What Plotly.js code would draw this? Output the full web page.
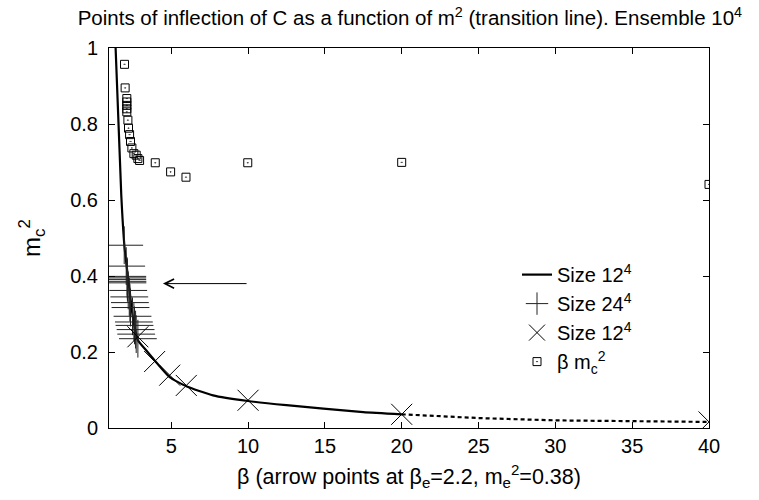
<!DOCTYPE html>
<html>
<head>
<meta charset="utf-8">
<script src="https://cdn.plot.ly/plotly-3.0.1.min.js"></script>
<style>html,body{margin:0;padding:0;background:#fff;}#chart{width:759px;height:500px;}</style>
</head>
<body>
<div id="chart"></div>
<script>
// Size 12^4 fitted transition line (solid part)
var lineBeta = [1.38, 1.75, 1.96, 2.29, 2.5, 2.83, 3.38, 3.92, 4.9, 5.98, 7.72, 10.0, 12.5, 14.9, 17.5, 20];
var lineM    = [1.0, 0.612, 0.476, 0.362, 0.292, 0.231, 0.204, 0.178, 0.134, 0.11, 0.086, 0.071, 0.06, 0.051, 0.042, 0.036];
// dashed continuation
var dashBeta = [20, 25.1, 30.1, 35.1, 39.9];
var dashM    = [0.036, 0.026, 0.020, 0.0176, 0.016];
// Size 24^4 points (plus)
var plusBeta = [1.94, 2.07, 2.14, 2.14, 2.14, 2.15, 2.15, 2.2, 2.27, 2.31, 2.35, 2.48, 2.57, 2.61, 2.68, 2.72, 2.83];
var plusM    = [0.481, 0.426, 0.399, 0.395, 0.391, 0.386, 0.382, 0.362, 0.345, 0.33, 0.317, 0.294, 0.279, 0.27, 0.259, 0.247, 0.235];
// Size 12^4 points (cross)
var crossBeta = [2.83, 3.92, 4.9, 5.98, 10.0, 20, 40];
var crossM    = [0.24, 0.175, 0.139, 0.112, 0.073, 0.036, 0.016];
// beta m_c^2 (squares)
var sqBeta = [1.96, 2.0, 2.11, 2.11, 2.11, 2.11, 2.11, 2.18, 2.22, 2.29, 2.35, 2.44, 2.57, 2.72, 2.83, 2.94, 3.96, 4.96, 5.96, 9.98, 20, 40];
var sqM    = [0.957, 0.895, 0.867, 0.858, 0.849, 0.84, 0.832, 0.81, 0.789, 0.772, 0.754, 0.737, 0.722, 0.718, 0.709, 0.704, 0.698, 0.674, 0.66, 0.698, 0.699, 0.641];
// arrow (head, tail) at m^2 level
var arrowBeta = [4.46, 10.0];
var arrowM = 0.38;

var traces = [
  {x: lineBeta, y: lineM, mode: 'lines', name: 'Size 12<sup>4</sup>',
   line: {color: '#000', width: 2.2, shape: 'spline', smoothing: 0.5}},
  {x: dashBeta, y: dashM, mode: 'lines', showlegend: false,
   line: {color: '#000', width: 2.2, dash: '4px,3px'}},
  {x: plusBeta, y: plusM, mode: 'markers', name: 'Size 24<sup>4</sup>',
   marker: {symbol: 'cross-thin-open', size: 27, color: '#222', line: {color: '#222', width: 1}}},
  {x: crossBeta, y: crossM, mode: 'markers', name: 'Size 12<sup>4</sup>',
   marker: {symbol: 'x-thin-open', size: 21, color: '#000', line: {color: '#000', width: 1}}},
  {x: sqBeta, y: sqM, mode: 'markers', name: '\u03b2 m<sub>c</sub><sup>2</sup>',
   marker: {symbol: 'square-open-dot', size: 8, color: '#000', line: {color: '#000', width: 1}}}
];

var layout = {
  width: 759, height: 500,
  margin: {l: 109, r: 50, t: 48, b: 72},
  paper_bgcolor: '#fff', plot_bgcolor: '#fff',
  font: {family: 'Liberation Sans, Arial, sans-serif', size: 20, color: '#000'},
  title: {text: 'Points of inflection of C as a function of m<sup>2</sup> (transition line). Ensemble 10<sup>4</sup>',
          font: {size: 20.5}, x: 0.54, xanchor: 'center', y: 0.964, yanchor: 'middle'},
  xaxis: {range: [0.95, 40], tick0: 0, dtick: 5, ticks: 'inside', ticklen: 6, tickcolor: '#000',
          showline: true, linecolor: '#000', linewidth: 1, mirror: 'allticks', showgrid: false, zeroline: false,
          title: {text: '\u03b2 (arrow points at \u03b2<sub>e</sub>=2.2, m<sub>e</sub><sup>2</sup>=0.38)', font: {size: 21.5}, standoff: 12}},
  yaxis: {range: [0, 1], tick0: 0, dtick: 0.2, ticks: 'inside', ticklen: 6, tickcolor: '#000', ticklabelstandoff: 6,
          showline: true, linecolor: '#000', linewidth: 1, mirror: 'allticks', showgrid: false, zeroline: false,
          title: {text: 'm<sub>c</sub><sup>2</sup>', standoff: 22}},
  legend: {x: 0.68, xanchor: 'left', y: 0.455, yanchor: 'top', bgcolor: 'rgba(0,0,0,0)',
           font: {size: 20}, tracegroupgap: 0},
  annotations: [{
    x: arrowBeta[0], y: arrowM, ax: arrowBeta[1], ay: arrowM, xref: 'x', yref: 'y', axref: 'x', ayref: 'y',
    text: '', showarrow: true, arrowhead: 5, arrowsize: 1.8, arrowwidth: 1, arrowcolor: '#000'
  }]
};

Plotly.newPlot('chart', traces, layout, {displayModeBar: false, staticPlot: true});
</script>
</body>
</html>
